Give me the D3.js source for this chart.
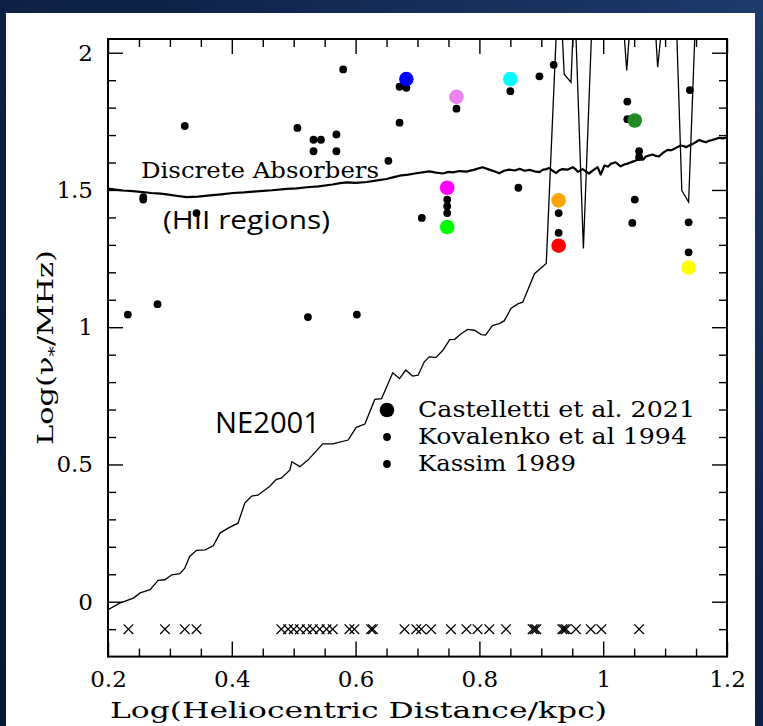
<!DOCTYPE html>
<html>
<head>
<meta charset="utf-8">
<script src="https://cdn.jsdelivr.net/npm/d3@7"></script>
<style>
body { margin: 0; background: #0b1a3a; }
svg { display: block; }
</style>
</head>
<body>
<svg id="chart" width="763" height="726"></svg>
<script>
// Castelletti et al. 2021 - coloured points [logD, logNu]
var castelletti = [
  [0.682, 1.904], [0.763, 1.839], [0.850, 1.904], [1.051, 1.753],
  [0.748, 1.508], [0.748, 1.365], [0.928, 1.462], [0.928, 1.297], [1.138, 1.217]
];
var castellettiColors = ["#0000ff", "#ee82ee", "#00ffff", "#228b22",
  "#ff00ff", "#00ff00", "#ffa500", "#ff0000", "#ffff00"];

// Kovalenko et al 1994 + Kassim 1989 (black points)
var blackPoints = [
  [0.580, 1.939], [0.671, 1.876], [0.682, 1.872], [0.324, 1.733], [0.506, 1.726],
  [0.532, 1.683], [0.544, 1.683], [0.569, 1.702], [0.532, 1.641], [0.569, 1.641],
  [0.671, 1.745], [0.653, 1.606], [0.257, 1.474], [0.257, 1.465], [0.343, 1.416],
  [0.707, 1.398], [0.850, 1.860], [0.763, 1.796], [0.897, 1.914], [0.920, 1.956],
  [1.039, 1.822], [1.039, 1.758], [1.140, 1.864], [1.058, 1.641], [1.058, 1.620],
  [0.748, 1.465], [0.748, 1.441], [0.748, 1.416], [0.863, 1.508], [0.928, 1.416],
  [0.928, 1.344], [1.051, 1.465], [1.047, 1.380], [1.138, 1.382], [1.138, 1.273],
  [0.232, 1.046], [0.280, 1.084], [0.523, 1.037], [0.602, 1.046]
];

// upper limits drawn as crosses at logNu = -0.1
var crossX = [
  0.233, 0.292, 0.324, 0.343, 0.480, 0.491, 0.500, 0.510, 0.521, 0.531, 0.542,
  0.553, 0.563, 0.590, 0.598, 0.625, 0.628, 0.679, 0.698, 0.706, 0.722, 0.754,
  0.779, 0.797, 0.816, 0.843, 0.886, 0.889, 0.892, 0.934, 0.937, 0.940, 0.956,
  0.980, 0.997, 1.058
];
var crossY = -0.1;

// Discrete absorbers (HII regions) curve
var absorbers = [
  [0.200, 1.505], [0.212, 1.501], [0.224, 1.498], [0.240, 1.496], [0.256, 1.492],
  [0.270, 1.489], [0.285, 1.487], [0.295, 1.484], [0.310, 1.479], [0.327, 1.474],
  [0.345, 1.476], [0.365, 1.480], [0.383, 1.484], [0.402, 1.489], [0.420, 1.491],
  [0.445, 1.496], [0.465, 1.499], [0.489, 1.504], [0.505, 1.506], [0.521, 1.510],
  [0.540, 1.513], [0.563, 1.520], [0.575, 1.525], [0.586, 1.528], [0.600, 1.526],
  [0.618, 1.529], [0.635, 1.535], [0.650, 1.540], [0.660, 1.546], [0.671, 1.552],
  [0.685, 1.556], [0.698, 1.561], [0.708, 1.564], [0.719, 1.568], [0.730, 1.563],
  [0.741, 1.560], [0.750, 1.566], [0.757, 1.564], [0.768, 1.569], [0.779, 1.567],
  [0.792, 1.574], [0.805, 1.583], [0.816, 1.574], [0.825, 1.567], [0.832, 1.561],
  [0.840, 1.570], [0.848, 1.574], [0.857, 1.571], [0.865, 1.577], [0.873, 1.570],
  [0.881, 1.573], [0.889, 1.568], [0.897, 1.565], [0.902, 1.573], [0.908, 1.576],
  [0.913, 1.580], [0.918, 1.570], [0.924, 1.562], [0.929, 1.572], [0.934, 1.576],
  [0.942, 1.574], [0.951, 1.583], [0.955, 1.576], [0.959, 1.566], [0.967, 1.576],
  [0.972, 1.568], [0.977, 1.560], [0.984, 1.572], [0.991, 1.583], [0.996, 1.556],
  [1.002, 1.589], [1.008, 1.585], [1.012, 1.595], [1.020, 1.601], [1.028, 1.586],
  [1.034, 1.593], [1.039, 1.596], [1.050, 1.605], [1.058, 1.613], [1.064, 1.610],
  [1.069, 1.622], [1.075, 1.626], [1.080, 1.629], [1.085, 1.624], [1.090, 1.622],
  [1.097, 1.636], [1.104, 1.646], [1.110, 1.645], [1.115, 1.650], [1.120, 1.656],
  [1.125, 1.662], [1.130, 1.660], [1.134, 1.656], [1.139, 1.662], [1.144, 1.667],
  [1.150, 1.675], [1.155, 1.682], [1.160, 1.678], [1.166, 1.674], [1.171, 1.679],
  [1.176, 1.682], [1.182, 1.686], [1.187, 1.690], [1.194, 1.688], [1.200, 1.692]
];

// NE2001 model curve
var ne2001 = [
  [0.200, -0.029], [0.219, -0.005], [0.241, 0.013], [0.252, 0.032], [0.268, 0.044],
  [0.281, 0.078], [0.292, 0.080], [0.303, 0.098], [0.316, 0.102], [0.324, 0.122],
  [0.332, 0.165], [0.343, 0.187], [0.357, 0.189], [0.370, 0.204], [0.381, 0.250],
  [0.394, 0.268], [0.410, 0.286], [0.421, 0.359], [0.432, 0.385], [0.442, 0.388],
  [0.461, 0.420], [0.472, 0.446], [0.480, 0.450], [0.494, 0.480], [0.497, 0.510],
  [0.510, 0.492], [0.523, 0.516], [0.547, 0.575], [0.563, 0.575], [0.588, 0.589],
  [0.601, 0.635], [0.615, 0.647], [0.631, 0.737], [0.642, 0.740], [0.660, 0.834],
  [0.671, 0.813], [0.681, 0.844], [0.692, 0.822], [0.701, 0.825], [0.711, 0.874],
  [0.719, 0.892], [0.730, 0.890], [0.741, 0.916], [0.752, 0.955], [0.760, 0.956],
  [0.771, 0.977], [0.781, 0.992], [0.792, 0.989], [0.803, 0.973], [0.810, 0.971],
  [0.821, 1.006], [0.832, 1.013], [0.840, 1.023], [0.851, 1.068], [0.862, 1.085],
  [0.870, 1.091], [0.889, 1.195], [0.908, 1.232], [0.924, 2.060], [0.934, 2.060],
  [0.937, 1.922], [0.948, 1.892], [0.951, 2.060], [0.956, 2.060], [0.968, 1.287],
  [0.981, 2.060], [1.034, 2.060], [1.038, 1.935], [1.042, 2.060], [1.085, 2.060],
  [1.088, 1.947], [1.093, 2.060], [1.119, 2.060], [1.127, 1.498], [1.138, 1.456],
  [1.148, 2.060], [1.200, 2.060]
];

var xMajor = [0.2, 0.4, 0.6, 0.8, 1.0, 1.2];
var xLabels = ["0.2", "0.4", "0.6", "0.8", "1", "1.2"];
var yMajor = [0, 0.5, 1, 1.5, 2];
var yLabels = ["0", "0.5", "1", "1.5", "2"];

var legendNames = ["Castelletti et al. 2021", "Kovalenko et al 1994", "Kassim 1989"];

var svg = d3.select("#chart"),
    width = +svg.attr("width"),
    height = +svg.attr("height");

var serif = "'DejaVu Serif', serif";
var sans = "'Open Sans', 'Noto Sans', sans-serif";

// slide background
var defs = svg.append("defs");
var grad = defs.append("linearGradient").attr("id", "bg")
    .attr("x1", 0).attr("y1", 1).attr("x2", 1).attr("y2", 0);
grad.append("stop").attr("offset", "0%").attr("stop-color", "#091630");
grad.append("stop").attr("offset", "60%").attr("stop-color", "#0f2349");
grad.append("stop").attr("offset", "100%").attr("stop-color", "#1d3a6c");
svg.append("rect").attr("width", width).attr("height", height).attr("fill", "url(#bg)");
svg.append("rect").attr("x", 6).attr("y", 13).attr("width", 749).attr("height", height - 13)
    .attr("fill", "#fff");

var x = d3.scaleLinear().domain([0.2, 1.2]).range([108, 727]);
var y = d3.scaleLinear().domain([-0.2, 2.05]).range([656.6, 39]);

defs.append("clipPath").attr("id", "plotclip").append("rect")
    .attr("x", x(0.2)).attr("y", y(2.05))
    .attr("width", x(1.2) - x(0.2)).attr("height", y(-0.2) - y(2.05));

// ticks
var xMinor = d3.range(0.25, 1.2, 0.05).filter(function(v) { return Math.abs(v * 5 - Math.round(v * 5)) > 1e-6; });
var yMinor = d3.range(-0.1, 2.05, 0.1).filter(function(v) { return Math.abs(v * 2 - Math.round(v * 2)) > 1e-6; });

function styleAxis(g) {
    g.select(".domain").remove();
    g.selectAll("line").attr("stroke", "#000").attr("stroke-width", 1.4);
    g.selectAll("text").attr("font-family", serif).attr("font-size", 23).attr("fill", "#000");
}

svg.append("g").attr("transform", "translate(0," + y(-0.2) + ")")
    .call(d3.axisBottom(x).tickValues(xMajor).tickSize(-15).tickPadding(14)
        .tickFormat(function(d, i) { return xLabels[i]; }))
    .call(styleAxis);
svg.append("g").attr("transform", "translate(0," + y(-0.2) + ")")
    .call(d3.axisBottom(x).tickValues(xMinor).tickSize(-8).tickFormat(""))
    .call(styleAxis);
svg.append("g").attr("transform", "translate(0," + y(2.05) + ")")
    .call(d3.axisTop(x).tickValues(xMajor).tickSize(-15).tickFormat(""))
    .call(styleAxis);
svg.append("g").attr("transform", "translate(0," + y(2.05) + ")")
    .call(d3.axisTop(x).tickValues(xMinor).tickSize(-8).tickFormat(""))
    .call(styleAxis);

svg.append("g").attr("transform", "translate(" + x(0.2) + ",0)")
    .call(d3.axisLeft(y).tickValues(yMajor).tickSize(-15).tickPadding(15)
        .tickFormat(function(d, i) { return yLabels[i]; }))
    .call(styleAxis);
svg.append("g").attr("transform", "translate(" + x(0.2) + ",0)")
    .call(d3.axisLeft(y).tickValues(yMinor).tickSize(-8).tickFormat(""))
    .call(styleAxis);
svg.append("g").attr("transform", "translate(" + x(1.2) + ",0)")
    .call(d3.axisRight(y).tickValues(yMajor).tickSize(-15).tickFormat(""))
    .call(styleAxis);
svg.append("g").attr("transform", "translate(" + x(1.2) + ",0)")
    .call(d3.axisRight(y).tickValues(yMinor).tickSize(-8).tickFormat(""))
    .call(styleAxis);

// frame
svg.append("rect")
    .attr("x", x(0.2)).attr("y", y(2.05))
    .attr("width", x(1.2) - x(0.2)).attr("height", y(-0.2) - y(2.05))
    .attr("fill", "none").attr("stroke", "#000").attr("stroke-width", 2);

var plot = svg.append("g").attr("clip-path", "url(#plotclip)");
var line = d3.line().x(function(d) { return x(d[0]); }).y(function(d) { return y(d[1]); });

plot.append("path").datum(ne2001)
    .attr("d", line).attr("fill", "none")
    .attr("stroke", "#000").attr("stroke-width", 1.3);

plot.append("path").datum(absorbers)
    .attr("d", line).attr("fill", "none")
    .attr("stroke", "#000").attr("stroke-width", 2.2).attr("stroke-linejoin", "round");

// crosses
var cs = 4.8;
var crosses = plot.selectAll(".cross").data(crossX).enter().append("g")
    .attr("class", "cross")
    .attr("transform", function(d) { return "translate(" + x(d) + "," + y(crossY) + ")"; });
crosses.append("line").attr("x1", -cs).attr("y1", -cs).attr("x2", cs).attr("y2", cs)
    .attr("stroke", "#000").attr("stroke-width", 1.3);
crosses.append("line").attr("x1", -cs).attr("y1", cs).attr("x2", cs).attr("y2", -cs)
    .attr("stroke", "#000").attr("stroke-width", 1.3);

plot.selectAll(".kdot").data(blackPoints).enter().append("circle")
    .attr("class", "kdot")
    .attr("cx", function(d) { return x(d[0]); })
    .attr("cy", function(d) { return y(d[1]); })
    .attr("r", 3.9).attr("fill", "#000");

plot.selectAll(".cdot").data(castelletti).enter().append("circle")
    .attr("class", "cdot")
    .attr("cx", function(d) { return x(d[0]); })
    .attr("cy", function(d) { return y(d[1]); })
    .attr("r", 7.3)
    .attr("fill", function(d, i) { return castellettiColors[i]; });

// legend
var legY = [410, 437, 464];
var legR = [7.3, 3.9, 3.9];
var legW = [277, 269, 158];
legendNames.forEach(function(name, i) {
    svg.append("circle").attr("cx", 387).attr("cy", legY[i]).attr("r", legR[i]).attr("fill", "#000");
    svg.append("text").attr("x", 418).attr("y", legY[i] + 6.5)
        .attr("font-family", serif).attr("font-size", 22)
        .attr("textLength", legW[i]).attr("lengthAdjust", "spacingAndGlyphs")
        .text(name);
});

// annotations
svg.append("text").attr("x", 141).attr("y", 178)
    .attr("font-family", serif).attr("font-size", 22)
    .attr("textLength", 238).attr("lengthAdjust", "spacingAndGlyphs")
    .text("Discrete Absorbers");
svg.append("text").attr("x", 163).attr("y", 229)
    .attr("font-family", sans).attr("font-size", 25)
    .attr("textLength", 167).attr("lengthAdjust", "spacingAndGlyphs")
    .text("(HII regions)");
svg.append("text").attr("x", 215).attr("y", 433)
    .attr("font-family", sans).attr("font-size", 30)
    .attr("textLength", 105).attr("lengthAdjust", "spacingAndGlyphs")
    .text("NE2001");

// axis titles
svg.append("text").attr("x", 110).attr("y", 718)
    .attr("font-family", serif).attr("font-size", 22)
    .attr("textLength", 497).attr("lengthAdjust", "spacingAndGlyphs")
    .text("Log(Heliocentric Distance/kpc)");

var yt = svg.append("text")
    .attr("transform", "translate(53,445) rotate(-90)")
    .attr("font-family", serif).attr("font-size", 22)
    .attr("textLength", 195).attr("lengthAdjust", "spacingAndGlyphs");
yt.append("tspan").text("Log(");
yt.append("tspan").text("\u03bd");
yt.append("tspan").attr("dy", 6).attr("font-size", 15).text("*");
yt.append("tspan").attr("dy", -6).text("/MHz)");
</script>
</body>
</html>
